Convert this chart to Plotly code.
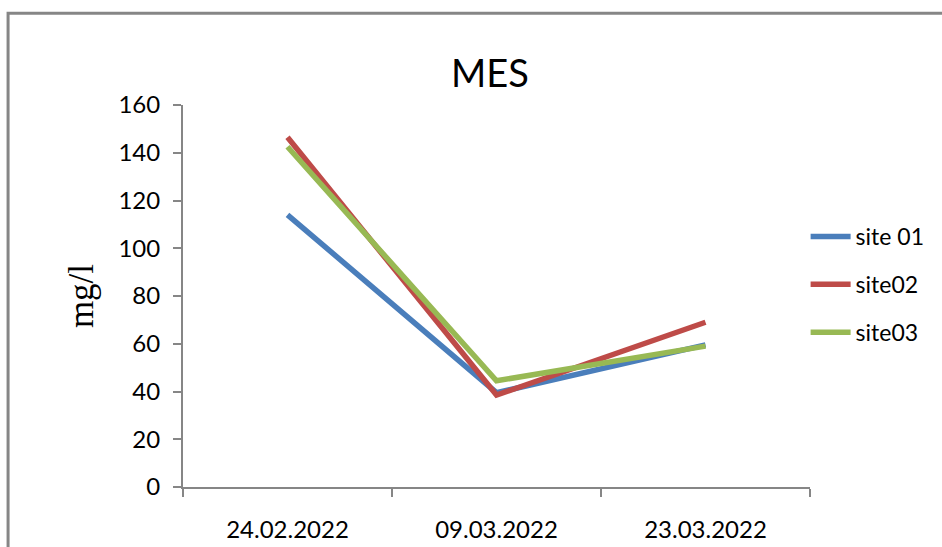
import plotly.graph_objects as go

# Sampling dates and MES concentrations (mg/l) per site
dates = ["24.02.2022", "09.03.2022", "23.03.2022"]
site01 = [114, 39.5, 59.5]
site02 = [146.5, 38.5, 69]
site03 = [142.5, 44.5, 59]
y_ticks = [0, 20, 40, 60, 80, 100, 120, 140, 160]

series = [
    ("site 01", site01, "#4A7EBB"),
    ("site02", site02, "#BE4B48"),
    ("site03", site03, "#98B954"),
]

fig = go.Figure()
for name, vals, color in series:
    fig.add_trace(go.Scatter(
        x=dates, y=vals, name=name, mode="lines", legendgroup=name,
        line=dict(color=color, width=5.5),
    ))

axis_grey = "#868686"
fig.update_layout(
    width=942, height=547,
    margin=dict(l=183, r=132, t=105, b=60, autoexpand=False),
    paper_bgcolor="white", plot_bgcolor="white",
    font=dict(family="Lato, Open Sans, sans-serif", color="black", size=24),
    title=dict(text="MES", x=0.52, xanchor="center", y=0.865, yanchor="middle",
               font=dict(size=38, family="Lato, Open Sans, sans-serif")),
    showlegend=True,
    legend=dict(x=0.993, xanchor="left", y=0.712, yanchor="top",
                font=dict(size=23), tracegroupgap=15, itemwidth=40,
                bgcolor="rgba(0,0,0,0)"),
    xaxis=dict(
        type="category", range=[-0.5, 2.5], automargin=False,
        showline=True, linecolor=axis_grey, linewidth=2,
        ticks="outside", tickson="boundaries", ticklen=8, tickcolor=axis_grey,
        tickwidth=2, showgrid=False, zeroline=False,
        ticklabelstandoff=20,
        tickfont=dict(size=24),
    ),
    yaxis=dict(
        range=[0, 160], tickvals=y_ticks, automargin=False,
        showline=True, linecolor=axis_grey, linewidth=2,
        ticks="outside", ticklen=8, tickcolor=axis_grey, tickwidth=2,
        showgrid=False, zeroline=False, ticklabelstandoff=8,
        tickfont=dict(size=24),
        title=dict(text="mg/l", standoff=14,
                   font=dict(family="Liberation Serif, Times New Roman, serif", size=35)),
    ),
)

# Chart-area frame
fig.add_shape(type="rect", xref="paper", yref="paper",
              x0=-0.279, x1=1.22, y0=-0.17, y1=1.24,
              line=dict(color=axis_grey, width=3), layer="below")

fig.write_html("out.html")
